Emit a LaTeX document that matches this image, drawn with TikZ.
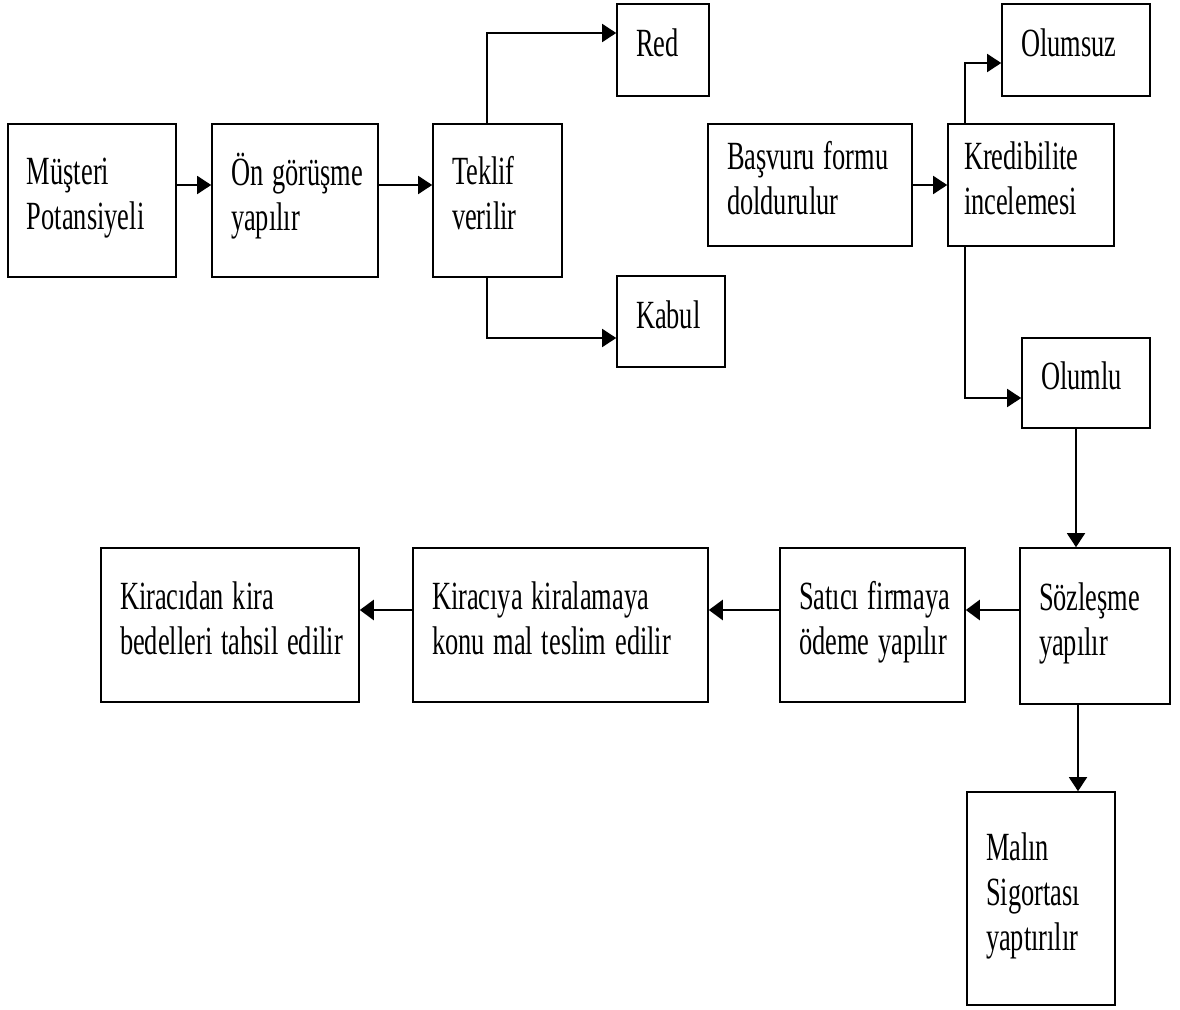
\documentclass[tikz,border=0pt]{standalone}
\usepackage{fontspec}
\usepackage{graphicx}
\setmainfont{Liberation Serif}
\usetikzlibrary{arrows.meta}
\newcommand{\sqz}[1]{\raisebox{-4pt}[0pt][0pt]{\scalebox{0.66}[1]{\begin{tabular}{@{}l@{}}#1\end{tabular}}}}
\begin{document}
\begin{tikzpicture}[x=1pt,y=-1pt,
  box/.style={draw, line width=1.6pt, align=left, inner xsep=19pt, inner ysep=0pt,
    font=\fontsize{40}{45}\selectfont},
  arr/.style={draw, line width=1.6pt, -{Triangle[length=14pt,width=18pt]}},
  arrb/.style={draw, line width=2.6pt, -{Triangle[length=14pt,width=20pt]}}]
\useasboundingbox (0,0) rectangle (1180,1009);
\fill[white] (0,0) rectangle (1180,1009);
% top row
\node[box, minimum width=168pt, minimum height=153pt, text width=130pt] (must) at (92,200.5) {\sqz{Müşteri\\Potansiyeli}};
\node[box, minimum width=166pt, minimum height=153pt, text width=128pt] (on) at (295,200.5) {\sqz{Ön görüşme\\yapılır}};
\node[box, minimum width=129pt, minimum height=153pt, text width=91pt] (tek) at (497.5,200.5) {\sqz{Teklif\\verilir}};
\node[box, minimum width=92pt, minimum height=92pt, text width=54pt] (red) at (663,50) {\sqz{Red}};
\node[box, minimum width=108pt, minimum height=91pt, text width=70pt] (kab) at (671,321.5) {\sqz{Kabul}};
\node[box, minimum width=204pt, minimum height=122pt, text width=166pt] (bas) at (810,185) {\sqz{Başvuru formu\\doldurulur}};
\node[box, inner xsep=16pt, minimum width=166pt, minimum height=122pt, text width=134pt] (kre) at (1031,185) {\sqz{Kredibilite\\incelemesi}};
\node[box, minimum width=148pt, minimum height=92pt, text width=110pt] (olz) at (1076,50) {\sqz{Olumsuz}};
\node[box, minimum width=128pt, minimum height=90pt, text width=90pt] (olm) at (1086,383) {\sqz{Olumlu}};
% bottom row
\node[box, minimum width=150pt, minimum height=156pt, text width=112pt] (soz) at (1095,626) {\sqz{Sözleşme\\yapılır}};
\node[box, minimum width=185pt, minimum height=154pt, text width=147pt] (sat) at (872.5,625) {\sqz{Satıcı firmaya\\ödeme yapılır}};
\node[box, minimum width=295pt, minimum height=154pt, text width=257pt] (kic) at (560.5,625) {\sqz{Kiracıya kiralamaya\\konu mal teslim edilir}};
\node[box, minimum width=258pt, minimum height=154pt, text width=220pt] (kid) at (230,625) {\sqz{Kiracıdan kira\\bedelleri tahsil edilir}};
\node[box, minimum width=148pt, minimum height=213pt, text width=110pt] (mal) at (1041,898.5) {\sqz{Malın\\Sigortası\\yaptırılır}};
% connectors
\draw[arr] ([yshift=15.5pt]must.east) -- ([yshift=15.5pt]on.west);
\draw[arr] ([yshift=15.5pt]on.east) -- ([yshift=15.5pt]tek.west);
\draw[arr] ([xshift=-10.5pt]tek.north) |- ([yshift=17pt]red.west);
\draw[arr] ([xshift=-10.5pt]tek.south) |- ([yshift=-16.5pt]kab.west);
\draw[arr] (bas.east) -- (kre.west);
\draw[arr] ([xshift=-66pt]kre.north) |- ([yshift=-13pt]olz.west);
\draw[arr] ([xshift=-66pt]kre.south) |- ([yshift=-15pt]olm.west);
\draw[arr] ([xshift=-10pt]olm.south) -- ([xshift=-10pt]olm.south |- soz.north);
\draw[arrb] ([yshift=16pt]soz.west) -- ([yshift=15pt]sat.east);
\draw[arrb] ([yshift=15pt]sat.west) -- ([yshift=15pt]kic.east);
\draw[arrb] ([yshift=15pt]kic.west) -- ([yshift=15pt]kid.east);
\draw[arr] ([xshift=-17pt]soz.south) -- ([xshift=-17pt]soz.south |- mal.north);
\end{tikzpicture}
\end{document}
